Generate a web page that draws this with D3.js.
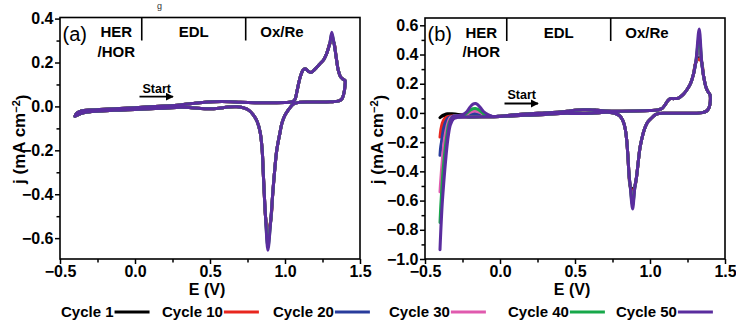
<!DOCTYPE html>
<html>
<head>
<meta charset="utf-8">
<script src="https://cdn.jsdelivr.net/npm/d3@7"></script>
<style>
  html, body { margin: 0; padding: 0; background: #fff; }
  svg { display: block; font-family: "Liberation Sans", Arial, sans-serif; }
</style>
</head>
<body>
<svg id="chart" width="736" height="322"></svg>
<script>
// ---- series and tick data ----
const cycles = ["Cycle 1", "Cycle 10", "Cycle 20", "Cycle 30", "Cycle 40", "Cycle 50"];
const cycleColors = ["#000000", "#e8261e", "#283c9c", "#e05aae", "#17a84a", "#5a2d9e"];

const xTickValues = [-0.5, 0.0, 0.5, 1.0, 1.5];
const xMinorValues = [-0.25, 0.25, 0.75, 1.25];
const yTickValuesA = [-0.6, -0.4, -0.2, 0.0, 0.2, 0.4];
const yMinorValuesA = [-0.5, -0.3, -0.1, 0.1, 0.3];
const yTickValuesB = [-1.0, -0.8, -0.6, -0.4, -0.2, 0.0, 0.2, 0.4, 0.6];
const yMinorValuesB = [-0.9, -0.7, -0.5, -0.3, -0.1, 0.1, 0.3, 0.5];

// Potential window boundaries (V) and region labels
const regionBounds = [0.045, 0.738];
const regionLabels = ["EDL", "Ox/Re"];

// Panel (a): anodic sweep from -0.4 V up to the oxidation peak [E (V), j (mA cm^-2)]
const aForwardLow = [
  [-0.40, -0.045], [-0.39, -0.032], [-0.37, -0.024], [-0.34, -0.019], [-0.30, -0.016],
  [-0.20, -0.013], [-0.10, -0.010], [0.00, -0.006], [0.10, -0.002], [0.20, 0.002],
  [0.30, 0.007], [0.38, 0.013], [0.45, 0.018], [0.52, 0.021], [0.58, 0.022],
  [0.64, 0.021], [0.70, 0.019], [0.80, 0.017], [0.90, 0.017], [1.00, 0.018],
  [1.04, 0.020], [1.065, 0.030], [1.08, 0.070], [1.10, 0.130], [1.12, 0.165],
  [1.135, 0.172], [1.155, 0.160], [1.175, 0.155], [1.20, 0.170], [1.23, 0.192],
  [1.26, 0.215], [1.28, 0.245], [1.298, 0.285]
];
const aOxPeakE = 1.312;
const aOxPeak = [0.300, 0.296, 0.310, 0.320, 0.330, 0.338];
const aForwardHigh = [
  [1.326, 0.290], [1.340, 0.230], [1.355, 0.165], [1.37, 0.135], [1.385, 0.125], [1.40, 0.118]
];
// Panel (a): cathodic sweep back from 1.4 V
const aReverseHigh = [
  [1.40, 0.095], [1.392, 0.058], [1.38, 0.035], [1.36, 0.025], [1.30, 0.021],
  [1.20, 0.020], [1.10, 0.019], [1.06, 0.012], [1.04, 0.000], [1.02, -0.018],
  [1.00, -0.040], [0.98, -0.075], [0.965, -0.125], [0.945, -0.200], [0.93, -0.300],
  [0.918, -0.400], [0.905, -0.520]
];
const aRedPeakE = 0.886;
const aRedPeak = [-0.580, -0.570, -0.600, -0.620, -0.640, -0.655];
const aReverseLow = [
  [0.870, -0.500], [0.862, -0.400], [0.855, -0.300], [0.848, -0.200], [0.835, -0.120],
  [0.815, -0.070], [0.79, -0.040], [0.76, -0.018], [0.73, -0.008], [0.68, -0.002],
  [0.62, -0.003], [0.56, -0.008], [0.50, -0.011], [0.44, -0.010], [0.36, -0.005],
  [0.30, -0.004], [0.20, -0.008], [0.10, -0.011], [0.00, -0.014], [-0.10, -0.017],
  [-0.20, -0.020], [-0.30, -0.024], [-0.35, -0.030], [-0.38, -0.038], [-0.40, -0.045]
];

// Panel (b): per-cycle start of the anodic sweep (HER tail and HOR hump)
const bTailOut = [
  [[-0.40, -0.032], [-0.39, -0.022], [-0.37, -0.012], [-0.35, -0.006], [-0.32, -0.006],
   [-0.28, -0.010], [-0.20, -0.014], [-0.10, -0.020], [-0.05, -0.024]],
  [[-0.40, -0.165], [-0.395, -0.120], [-0.385, -0.070], [-0.37, -0.040], [-0.35, -0.026],
   [-0.30, -0.020], [-0.20, -0.014], [-0.10, -0.020], [-0.05, -0.024]],
  [[-0.40, -0.290], [-0.395, -0.240], [-0.385, -0.160], [-0.375, -0.100], [-0.36, -0.055],
   [-0.34, -0.030], [-0.30, -0.020], [-0.25, -0.018], [-0.20, -0.008], [-0.17, -0.004],
   [-0.14, -0.008], [-0.10, -0.018], [-0.05, -0.024]],
  [[-0.40, -0.540], [-0.395, -0.460], [-0.385, -0.340], [-0.375, -0.220], [-0.36, -0.120],
   [-0.345, -0.060], [-0.33, -0.030], [-0.30, -0.020], [-0.25, -0.016], [-0.22, -0.008],
   [-0.20, 0.004], [-0.18, 0.011], [-0.165, 0.013], [-0.15, 0.010], [-0.13, 0.002],
   [-0.11, -0.010], [-0.08, -0.020], [-0.05, -0.024]],
  [[-0.40, -0.750], [-0.395, -0.640], [-0.385, -0.480], [-0.37, -0.300], [-0.355, -0.160],
   [-0.34, -0.070], [-0.32, -0.030], [-0.30, -0.020], [-0.25, -0.015], [-0.22, 0.000],
   [-0.20, 0.018], [-0.18, 0.029], [-0.165, 0.031], [-0.15, 0.026], [-0.13, 0.012],
   [-0.11, -0.005], [-0.08, -0.018], [-0.05, -0.024]],
  [[-0.40, -0.936], [-0.395, -0.820], [-0.385, -0.620], [-0.37, -0.400], [-0.355, -0.220],
   [-0.34, -0.100], [-0.325, -0.040], [-0.31, -0.022], [-0.28, -0.018], [-0.25, -0.012],
   [-0.22, 0.010], [-0.20, 0.040], [-0.18, 0.060], [-0.165, 0.064], [-0.15, 0.058],
   [-0.13, 0.035], [-0.11, 0.010], [-0.08, -0.012], [-0.05, -0.024]]
];
// Panel (b): common anodic sweep through the EDL and Pt-oxide region
const bForward = [
  [0.00, -0.022], [0.10, -0.012], [0.20, -0.005], [0.30, 0.000], [0.40, 0.006],
  [0.45, 0.012], [0.50, 0.018], [0.55, 0.022], [0.60, 0.022], [0.65, 0.018],
  [0.70, 0.014], [0.80, 0.012], [0.90, 0.013], [1.00, 0.016], [1.05, 0.020],
  [1.08, 0.030], [1.10, 0.055], [1.12, 0.085], [1.135, 0.098], [1.16, 0.098],
  [1.19, 0.102], [1.22, 0.125], [1.245, 0.157], [1.27, 0.200], [1.29, 0.265],
  [1.305, 0.345]
];
const bOxPeakE = 1.328;
const bOxPeak = [0.380, 0.370, 0.440, 0.480, 0.520, 0.575];
const bOxFall = [
  [1.345, 0.345], [1.356, 0.260], [1.375, 0.170], [1.39, 0.140], [1.40, 0.125]
];
// Panel (b): cathodic sweep back from 1.4 V
const bReverseHigh = [
  [1.402, 0.080], [1.395, 0.040], [1.38, 0.015], [1.35, 0.002], [1.30, -0.002],
  [1.20, -0.002], [1.10, -0.002], [1.06, -0.004], [1.04, -0.010], [1.02, -0.025],
  [1.00, -0.045], [0.98, -0.070], [0.96, -0.120], [0.945, -0.180], [0.933, -0.240],
  [0.92, -0.350], [0.91, -0.440], [0.90, -0.500]
];
const bRedPeakE = 0.884;
const bRedPeak = [-0.520, -0.544, -0.580, -0.610, -0.630, -0.657];
const bReverseLow = [
  [0.868, -0.500], [0.86, -0.420], [0.853, -0.300], [0.845, -0.190], [0.835, -0.110],
  [0.82, -0.055], [0.80, -0.022], [0.77, -0.004], [0.72, 0.004], [0.66, 0.002],
  [0.60, -0.002], [0.55, -0.004], [0.50, -0.004], [0.45, -0.002], [0.40, -0.004],
  [0.30, -0.010], [0.20, -0.015], [0.10, -0.020], [0.00, -0.024], [-0.10, -0.026],
  [-0.20, -0.027]
];
// Panel (b): per-cycle end of the cathodic sweep down to -0.4 V
const bTailIn = [
  [[-0.28, -0.022], [-0.33, -0.018], [-0.36, -0.016], [-0.38, -0.020], [-0.40, -0.032]],
  [[-0.28, -0.024], [-0.33, -0.026], [-0.355, -0.035], [-0.37, -0.055], [-0.385, -0.090],
   [-0.395, -0.130], [-0.40, -0.165]],
  [[-0.28, -0.026], [-0.32, -0.030], [-0.345, -0.045], [-0.36, -0.070], [-0.375, -0.120],
   [-0.385, -0.170], [-0.395, -0.230], [-0.40, -0.290]],
  [[-0.28, -0.028], [-0.31, -0.032], [-0.335, -0.050], [-0.355, -0.100], [-0.37, -0.180],
   [-0.38, -0.270], [-0.39, -0.390], [-0.40, -0.540]],
  [[-0.28, -0.028], [-0.31, -0.035], [-0.33, -0.060], [-0.35, -0.130], [-0.365, -0.240],
   [-0.38, -0.400], [-0.39, -0.560], [-0.40, -0.750]],
  [[-0.28, -0.030], [-0.31, -0.040], [-0.33, -0.080], [-0.345, -0.160], [-0.36, -0.300],
   [-0.375, -0.480], [-0.39, -0.700], [-0.40, -0.936]]
];

// ---- assemble one closed voltammogram per cycle ----
function loopA(i) {
  return [].concat(aForwardLow, [[aOxPeakE, aOxPeak[i]]], aForwardHigh,
                   aReverseHigh, [[aRedPeakE, aRedPeak[i]]], aReverseLow);
}
function loopB(i) {
  return [].concat(bTailOut[i], bForward, [[bOxPeakE, bOxPeak[i]]], bOxFall,
                   bReverseHigh, [[bRedPeakE, bRedPeak[i]]], bReverseLow, bTailIn[i]);
}

// ---- layout ----
const svg = d3.select("#chart");
const FONT = '"Liberation Sans", Arial, sans-serif';

const panels = [
  { tag: "(a)", left: 60, right: 360, top: 17.5, bottom: 259, yDomain: [-0.695, 0.405],
    yTicks: yTickValuesA, yMinor: yMinorValuesA, loop: loopA,
    tagY: 41, herY: 37, horY: 57, startY: 93, arrowY: 96.7, titleX: 25 },
  { tag: "(b)", left: 425, right: 725, top: 18, bottom: 259, yDomain: [-1.0, 0.65],
    yTicks: yTickValuesB, yMinor: yMinorValuesB, loop: loopB,
    tagY: 41, herY: 38, horY: 57, startY: 99, arrowY: 103.5, titleX: 383 }
];

svg.append("defs").append("marker")
  .attr("id", "arrowhead")
  .attr("viewBox", "0 0 10 10")
  .attr("refX", 9).attr("refY", 5)
  .attr("markerWidth", 4.5).attr("markerHeight", 4.5)
  .attr("markerUnits", "strokeWidth")
  .attr("orient", "auto")
  .append("path").attr("d", "M0,0 L10,5 L0,10 Z").attr("fill", "#000");

// tail of the caption line above the figure
svg.append("text").attr("x", 157).attr("y", 9)
  .attr("font-family", FONT).attr("font-size", 9).attr("fill", "#333").text("g");

const fmt = d3.format(".1f");

panels.forEach(p => {
  const x = d3.scaleLinear().domain([-0.5, 1.5]).range([p.left, p.right]);
  const y = d3.scaleLinear().domain(p.yDomain).range([p.bottom, p.top]);
  const g = svg.append("g");

  // curves, Cycle 1 first so Cycle 50 ends up on top
  const line = d3.line()
    .x(d => x(d[0])).y(d => y(d[1]))
    .curve(d3.curveCatmullRom.alpha(0.5));
  cycles.forEach((c, i) => {
    g.append("path")
      .datum(p.loop(i))
      .attr("d", line)
      .attr("fill", "none")
      .attr("stroke", cycleColors[i])
      .attr("stroke-width", 3)
      .attr("stroke-linejoin", "round")
      .attr("stroke-linecap", "round");
  });

  // axes
  const xAxis = d3.axisBottom(x).tickValues(xTickValues).tickFormat(fmt)
    .tickSize(5).tickSizeOuter(0).tickPadding(1.5);
  const yAxis = d3.axisLeft(y).tickValues(p.yTicks).tickFormat(fmt)
    .tickSize(5).tickSizeOuter(0).tickPadding(1.5);
  const gx = g.append("g").attr("transform", `translate(0,${p.bottom})`).call(xAxis);
  const gy = g.append("g").attr("transform", `translate(${p.left},0)`).call(yAxis);
  [gx, gy].forEach(a => {
    a.select(".domain").remove();
    a.selectAll(".tick line").attr("stroke", "#000").attr("stroke-width", 1.5);
    a.selectAll(".tick text")
      .attr("font-family", FONT).attr("font-size", 16).attr("font-weight", "bold")
      .attr("fill", "#000");
  });
  const gxm = g.append("g").attr("transform", `translate(0,${p.bottom})`)
    .call(d3.axisBottom(x).tickValues(xMinorValues).tickSize(3.5).tickSizeOuter(0).tickFormat(""));
  const gym = g.append("g").attr("transform", `translate(${p.left},0)`)
    .call(d3.axisLeft(y).tickValues(p.yMinor).tickSize(3.5).tickSizeOuter(0).tickFormat(""));
  [gxm, gym].forEach(a => {
    a.select(".domain").remove();
    a.selectAll(".tick line").attr("stroke", "#000").attr("stroke-width", 1.5);
  });

  // frame
  g.append("rect")
    .attr("x", p.left).attr("y", p.top)
    .attr("width", p.right - p.left).attr("height", p.bottom - p.top)
    .attr("fill", "none").attr("stroke", "#000").attr("stroke-width", 1.6);

  // axis titles
  g.append("text")
    .attr("x", (p.left + p.right) / 2 - 3).attr("y", 295)
    .attr("text-anchor", "middle")
    .attr("font-family", FONT).attr("font-size", 16).attr("font-weight", "bold")
    .text("E (V)");
  const yt = g.append("text")
    .attr("transform", `translate(${p.titleX},${(p.top + p.bottom) / 2 + 1}) rotate(-90)`)
    .attr("text-anchor", "middle")
    .attr("font-family", FONT).attr("font-size", 17).attr("font-weight", "bold");
  yt.append("tspan").text("j (mA cm");
  yt.append("tspan").attr("dy", "-0.45em").attr("font-size", 11).text("\u22122");
  yt.append("tspan").attr("dy", "0.45em").text(")");

  // panel tag and potential windows
  g.append("text").attr("x", p.left + 2.5).attr("y", p.tagY)
    .attr("font-family", FONT).attr("font-size", 20).text(p.tag);
  regionBounds.forEach(e => {
    g.append("line")
      .attr("x1", x(e)).attr("x2", x(e))
      .attr("y1", p.top).attr("y2", p.top + 23)
      .attr("stroke", "#000").attr("stroke-width", 1.6);
  });
  const bold15 = sel => sel.attr("font-family", FONT).attr("font-size", 15)
    .attr("font-weight", "bold").attr("text-anchor", "middle");
  g.append("text").attr("x", x(-0.125)).attr("y", p.herY).call(bold15).text("HER");
  g.append("text").attr("x", x(-0.125)).attr("y", p.horY).call(bold15).text("/HOR");
  g.append("text").attr("x", x((regionBounds[0] + regionBounds[1]) / 2)).attr("y", p.herY)
    .call(bold15).text(regionLabels[0]);
  g.append("text").attr("x", x(0.98)).attr("y", p.herY).call(bold15).text(regionLabels[1]);

  // sweep-start marker
  const sx0 = p.left + 79.5, sx1 = p.left + 113;
  g.append("text").attr("x", (sx0 + sx1) / 2 + 0.5).attr("y", p.startY)
    .attr("text-anchor", "middle")
    .attr("font-family", FONT).attr("font-size", 12.5).attr("font-weight", "bold")
    .text("Start");
  g.append("line")
    .attr("x1", sx0).attr("x2", sx1).attr("y1", p.arrowY).attr("y2", p.arrowY)
    .attr("stroke", "#000").attr("stroke-width", 1.8)
    .attr("marker-end", "url(#arrowhead)");
});

// ---- legend ----
const legendX = [61, 162, 273, 389, 508, 616];
const legend = svg.append("g");
cycles.forEach((c, i) => {
  const t = legend.append("text")
    .attr("x", legendX[i]).attr("y", 317)
    .attr("font-family", FONT).attr("font-size", 15).attr("font-weight", "bold")
    .text(c);
  const w = t.node().getComputedTextLength();
  legend.append("line")
    .attr("x1", legendX[i] + w + 1).attr("x2", legendX[i] + w + 36)
    .attr("y1", 312).attr("y2", 312)
    .attr("stroke", cycleColors[i]).attr("stroke-width", 3);
});
</script>
</body>
</html>
